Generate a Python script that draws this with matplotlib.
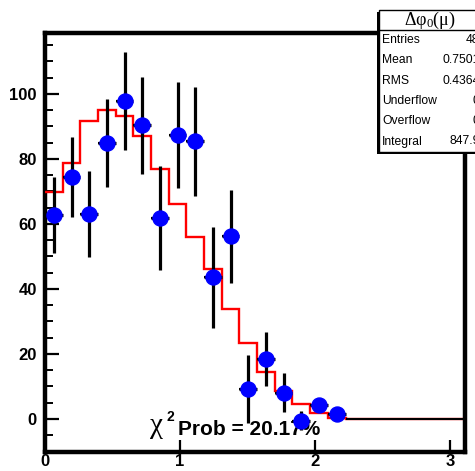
import numpy as np
import matplotlib
matplotlib.use("Agg")
import matplotlib.pyplot as plt
from matplotlib.patches import Rectangle
from matplotlib.ticker import MultipleLocator, FixedLocator

W, H = 475, 471
SANS = ["Liberation Sans", "DejaVu Sans"]
SERIF = ["Liberation Serif", "DejaVu Serif"]

# 24 bins over 0..pi
N_BINS = 24
X_MAX = np.pi
data_vals = [62.7, 74.4, 63.1, 84.9, 97.8, 90.3, 61.8, 87.4, 85.4, 43.6, 56.2, 9.3,
             18.5, 8.1, -0.5, 4.3, 1.4, 0, 0, 0, 0, 0, 0, 0]
data_errs = [11.7, 12.4, 13.3, 13.5, 15.2, 15.0, 16.0, 16.2, 16.8, 15.5, 14.4, 10.4,
             8.3, 6.1, 3.0, 2.0, 1.0, 0, 0, 0, 0, 0, 0, 0]
fit_vals = [69.8, 78.8, 91.8, 95.2, 93.1, 87.0, 77.0, 66.0, 55.9, 46.0, 33.9, 23.4,
            14.6, 8.5, 4.7, 1.9, 0.4, 0, 0, 0, 0, 0, 0, 0]

y_ticks = [0, 20, 40, 60, 80, 100]
x_ticks = [0, 1, 2, 3]

stats_title = r"$\mathregular{Δφ_0(μ)}$"
stats_rows = [("Entries", "48"), ("Mean", "0.7501"), ("RMS", "0.4364"),
              ("Underflow", "0"), ("Overflow", "0"), ("Integral", "847.9")]
chi2_text = "Prob = 20.17%"

edges = np.linspace(0, X_MAX, N_BINS + 1)
centers = 0.5 * (edges[:-1] + edges[1:])
half_w = 0.5 * (edges[1] - edges[0])
vals = np.array(data_vals)
errs = np.array(data_errs)
filled = np.array([v != 0 or e != 0 for v, e in zip(data_vals, data_errs)])

fig = plt.figure(figsize=(W / 100, H / 100), dpi=100)
fig.patch.set_facecolor("white")

# frame: left 45px, right 465px, top 32.5px, bottom 451.5px
ax = fig.add_axes([45 / W, 1 - 451.5 / H, (465 - 45) / W, (451.5 - 32.5) / H])
ax.set_xlim(0, 3.11)
ax.set_ylim(-10.0, 118.9)

ax.stairs(fit_vals, edges, baseline=None, color="#ff0000", lw=1.7, zorder=3)

# empty bins: only the horizontal bin-width bar
ax.errorbar(centers[~filled], vals[~filled], xerr=half_w, fmt="none",
            ecolor="black", elinewidth=1.5, zorder=4)
ax.errorbar(centers[filled], vals[filled], xerr=half_w, yerr=errs[filled],
            fmt="none", ecolor="black", elinewidth=2.3, zorder=4)
ax.errorbar(centers[filled], vals[filled], xerr=half_w, fmt="none",
            ecolor="black", elinewidth=1.5, zorder=4)
ax.plot(centers[filled], vals[filled], "o", color="#0000ff", ms=10.8,
        mec="#0000ff", zorder=5)

for s in ax.spines.values():
    s.set_linewidth(3.2)
ax.spines["right"].set_zorder(6)

ax.yaxis.set_major_locator(FixedLocator(y_ticks))
ax.yaxis.set_minor_locator(MultipleLocator(5))
ax.xaxis.set_major_locator(FixedLocator(x_ticks))
ax.tick_params(axis="y", which="major", direction="in", length=10, width=1.6,
               pad=6, labelsize=12)
ax.tick_params(axis="y", which="minor", direction="in", length=5.5, width=1.4)
ax.tick_params(axis="x", which="major", direction="in", length=8.5, width=1.6,
               pad=1.5, labelsize=12)
for lab in ax.get_xticklabels() + ax.get_yticklabels():
    lab.set_fontfamily(SANS)
    lab.set_fontweight("bold")

# chi2 probability text (under the markers)
ax.text(0.775, -4.3, "χ", fontsize=21, family=SERIF, ha="left",
        va="baseline", zorder=2)
ax.text(0.90, -0.6, "2", fontsize=10, family=SANS, fontweight="bold",
        ha="left", va="baseline", zorder=2)
ax.text(0.985, -4.9, chi2_text, fontsize=15, family=SANS, fontweight="bold",
        ha="left", va="baseline", zorder=2)

# stats box in pixel coordinates
ov = fig.add_axes([0, 0, 1, 1], zorder=10)
ov.set_xlim(0, W)
ov.set_ylim(H, 0)
ov.axis("off")
bx0, by0, bx1, by1 = 379, 9.5, 483, 151.5
ov.add_patch(Rectangle((bx0 - 2, by0 + 2), bx1 - bx0, by1 - by0,
                       facecolor="black", edgecolor="none", clip_on=False))
ov.add_patch(Rectangle((bx0, by0), bx1 - bx0, by1 - by0, facecolor="white",
                       edgecolor="black", lw=1.0, clip_on=False))
ov.plot([bx0, bx1], [29.5, 29.5], color="black", lw=1.0, clip_on=False)
ov.text(429.5, 20, stats_title, fontsize=13, family=SERIF, ha="center",
        va="center", clip_on=False)
row_y = [40, 60.3, 80.7, 100.8, 121, 141.5]
for (name, value), yy in zip(stats_rows, row_y):
    ov.text(382, yy, name, fontsize=8.7, family=SANS, ha="left", va="center",
            clip_on=False)
    ov.text(479.5, yy, value, fontsize=8.7, family=SANS, ha="right",
            va="center", clip_on=False)

fig.savefig("out.png", dpi=100, facecolor="white")
